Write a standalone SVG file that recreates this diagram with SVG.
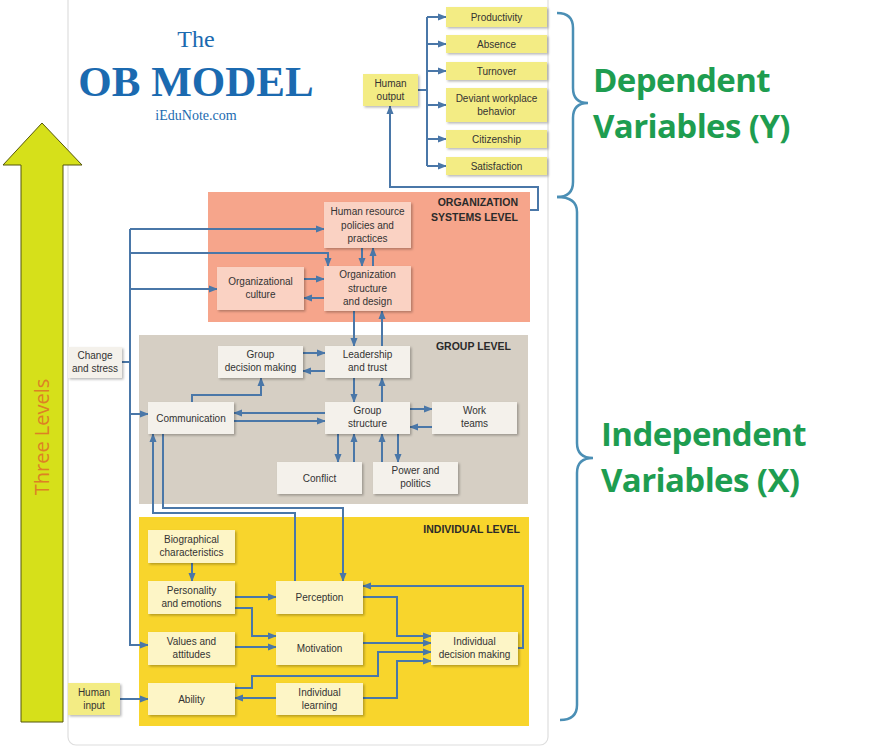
<svg xmlns="http://www.w3.org/2000/svg" width="877" height="754" viewBox="0 0 877 754">
<style>
.bx{stroke:none;filter:url(#sh)}
.org{fill:#FAD2C3}
.grp{fill:#F4F1EB}
.ind{fill:#FDF5C6}
.out{fill:#F3EC84}
.t{font-family:"Liberation Sans",Arial,sans-serif;font-size:10px;fill:#333;text-anchor:middle}
.lvl{font-family:"Liberation Sans",Arial,sans-serif;font-size:10.5px;font-weight:bold;fill:#2a2a2a;text-anchor:end}
.c{fill:none;stroke:#4A77A8;stroke-width:2}
.a{marker-end:url(#ah)}
.big{font-family:"Open Sans",sans-serif;font-weight:700;font-size:33px;letter-spacing:-0.6px;fill:#1E9D50}
.br{fill:none;stroke:#4B8FB5;stroke-width:2.5}
.ttl{font-family:"Liberation Serif",serif;fill:#1B6AB0;text-anchor:middle}
</style>
<defs>
<marker id="ah" markerUnits="userSpaceOnUse" markerWidth="9" markerHeight="8" refX="8" refY="4" orient="auto"><path d="M0,0.5 L9,4 L0,7.5 z" fill="#4A77A8"/></marker>
<filter id="sh" x="-10%" y="-10%" width="130%" height="140%"><feDropShadow dx="1.5" dy="1.5" stdDeviation="1" flood-color="#000" flood-opacity="0.28"/></filter>
</defs>
<rect width="877" height="754" fill="#fff"/>
<rect x="68" y="-10" width="480" height="755" rx="8" fill="#fff" stroke="#dedede" stroke-width="1.2"/>

<g id="three-levels-arrow">
<polygon points="42,123 82,165 63,165 63,722 21,722 21,165 3,165" fill="#D6E01A" stroke="#55560a" stroke-width="1"/>
<text transform="translate(49,437) rotate(-90)" font-family="'Open Sans',sans-serif" font-size="20" fill="#DD8124" text-anchor="middle">Three Levels</text>
</g>

<g id="title">
<text class="ttl" x="196" y="47" font-size="24">The</text>
<text class="ttl" x="196" y="96" font-size="43" font-weight="bold">OB MODEL</text>
<text class="ttl" x="196" y="120" font-size="14">iEduNote.com</text>
</g>

<g id="level-org"><rect x="208" y="192" width="322" height="130" fill="#F6A58B"/>
<text class="lvl" x="518" y="206">ORGANIZATION</text><text class="lvl" x="518" y="221">SYSTEMS LEVEL</text></g>
<g id="level-group"><rect x="139" y="335" width="389" height="169" fill="#D6CFC4"/>
<text class="lvl" x="511" y="350">GROUP LEVEL</text></g>
<g id="level-individual"><rect x="139" y="517" width="390" height="209" fill="#F8D52C"/>
<text class="lvl" x="520" y="533">INDIVIDUAL LEVEL</text></g>

<g id="connectors">
<path class="c" d="M418 90 H427 M427 17 V166"/>
<path class="c a" d="M427 17 H446"/>
<path class="c a" d="M427 44 H446"/>
<path class="c a" d="M427 71 H446"/>
<path class="c a" d="M427 105 H446"/>
<path class="c a" d="M427 139 H446"/>
<path class="c a" d="M427 166 H446"/>
<path class="c a" d="M530 210 H538 V187 H390 V106"/>
<path class="c a" d="M130 229 H324"/>
<path class="c a" d="M130 253 H328 V266"/>
<path class="c a" d="M130 289 H217"/>
<path class="c a" d="M362 248 V266"/>
<path class="c a" d="M373 266 V248"/>
<path class="c a" d="M304 279 H324"/>
<path class="c a" d="M324 298 H304"/>
<path class="c a" d="M130 229 V645 H148"/>
<path class="c" d="M122 362 H130"/>
<path class="c a" d="M130 414 H148"/>
<path class="c a" d="M354 311 V346"/>
<path class="c a" d="M382 346 V311"/>
<path class="c a" d="M303 353 H325"/>
<path class="c a" d="M325 371 H303"/>
<path class="c a" d="M354 378 V402"/>
<path class="c a" d="M382 402 V378"/>
<path class="c a" d="M410 409 H432"/>
<path class="c a" d="M432 427 H410"/>
<path class="c a" d="M325 413 H234"/>
<path class="c a" d="M234 421 H325"/>
<path class="c a" d="M192 402 V395 H261 V378"/>
<path class="c a" d="M338 434 V462"/>
<path class="c a" d="M354 462 V434"/>
<path class="c a" d="M382 462 V434"/>
<path class="c a" d="M398 434 V462"/>
<path class="c a" d="M295 581 V513 H153 V434"/>
<path class="c a" d="M163 434 V508 H343 V581"/>
<path class="c a" d="M120 699 H148"/>
<path class="c a" d="M192 563 V581"/>
<path class="c a" d="M235 597 H276"/>
<path class="c a" d="M235 608 H252 V636 H276"/>
<path class="c a" d="M235 647 H276"/>
<path class="c a" d="M363 597 H397 V636 H431"/>
<path class="c a" d="M363 643 H431"/>
<path class="c a" d="M235 688 H252 V676 H378 V652 H431"/>
<path class="c a" d="M363 698 H397 V661 H431"/>
<path class="c a" d="M276 698 H235"/>
<path class="c a" d="M518 648 H523 V586 H363"/>
</g>

<g id="productivity"><rect class="bx out" x="446" y="7" width="101" height="20"/><text class="t" x="496.5" y="20.5">Productivity</text></g>
<g id="absence"><rect class="bx out" x="446" y="35" width="101" height="18"/><text class="t" x="496.5" y="47.5">Absence</text></g>
<g id="turnover"><rect class="bx out" x="446" y="62" width="101" height="18"/><text class="t" x="496.5" y="74.5">Turnover</text></g>
<g id="deviant"><rect class="bx out" x="446" y="88" width="101" height="34"/><text class="t" x="496.5" y="102">Deviant workplace</text><text class="t" x="496.5" y="115">behavior</text></g>
<g id="citizenship"><rect class="bx out" x="446" y="130" width="101" height="18"/><text class="t" x="496.5" y="142.5">Citizenship</text></g>
<g id="satisfaction"><rect class="bx out" x="446" y="157" width="101" height="18"/><text class="t" x="496.5" y="169.5">Satisfaction</text></g>
<g id="human-output"><rect class="bx out" x="363" y="74" width="55" height="32"/><text class="t" x="390.5" y="87">Human</text><text class="t" x="390.5" y="100">output</text></g>

<g id="hr"><rect class="bx org" x="324" y="202" width="87" height="46"/><text class="t" x="367.5" y="215">Human resource</text><text class="t" x="367.5" y="228.5">policies and</text><text class="t" x="367.5" y="242">practices</text></g>
<g id="org-structure"><rect class="bx org" x="324" y="266" width="87" height="45"/><text class="t" x="367.5" y="278">Organization</text><text class="t" x="367.5" y="292">structure</text><text class="t" x="367.5" y="305">and design</text></g>
<g id="org-culture"><rect class="bx org" x="217" y="267" width="87" height="43"/><text class="t" x="260.5" y="285">Organizational</text><text class="t" x="260.5" y="298">culture</text></g>

<g id="change-stress"><rect class="bx grp" x="68" y="347" width="54" height="31"/><text class="t" x="95" y="359">Change</text><text class="t" x="95" y="372">and stress</text></g>
<g id="group-decision"><rect class="bx grp" x="218" y="346" width="85" height="32"/><text class="t" x="260.5" y="358">Group</text><text class="t" x="260.5" y="371">decision making</text></g>
<g id="leadership"><rect class="bx grp" x="325" y="346" width="85" height="32"/><text class="t" x="367.5" y="358">Leadership</text><text class="t" x="367.5" y="371">and trust</text></g>
<g id="communication"><rect class="bx grp" x="148" y="402" width="86" height="32"/><text class="t" x="191" y="421.5">Communication</text></g>
<g id="group-structure"><rect class="bx grp" x="325" y="402" width="85" height="32"/><text class="t" x="367.5" y="414">Group</text><text class="t" x="367.5" y="427">structure</text></g>
<g id="work-teams"><rect class="bx grp" x="432" y="402" width="85" height="32"/><text class="t" x="474.5" y="414">Work</text><text class="t" x="474.5" y="427">teams</text></g>
<g id="conflict"><rect class="bx grp" x="277" y="462" width="85" height="32"/><text class="t" x="319.5" y="481.5">Conflict</text></g>
<g id="power"><rect class="bx grp" x="373" y="462" width="85" height="32"/><text class="t" x="415.5" y="474">Power and</text><text class="t" x="415.5" y="487">politics</text></g>

<g id="biographical"><rect class="bx ind" x="148" y="530" width="87" height="33"/><text class="t" x="191.5" y="543">Biographical</text><text class="t" x="191.5" y="556">characteristics</text></g>
<g id="personality"><rect class="bx ind" x="148" y="581" width="87" height="33"/><text class="t" x="191.5" y="594">Personality</text><text class="t" x="191.5" y="607">and emotions</text></g>
<g id="values"><rect class="bx ind" x="148" y="632" width="87" height="33"/><text class="t" x="191.5" y="645">Values and</text><text class="t" x="191.5" y="658">attitudes</text></g>
<g id="ability"><rect class="bx ind" x="148" y="683" width="87" height="32"/><text class="t" x="191.5" y="702.5">Ability</text></g>
<g id="human-input"><rect class="bx out" x="68" y="683" width="52" height="32"/><text class="t" x="94" y="696">Human</text><text class="t" x="94" y="709">input</text></g>
<g id="perception"><rect class="bx ind" x="276" y="581" width="87" height="33"/><text class="t" x="319.5" y="601">Perception</text></g>
<g id="motivation"><rect class="bx ind" x="276" y="632" width="87" height="33"/><text class="t" x="319.5" y="652">Motivation</text></g>
<g id="learning"><rect class="bx ind" x="276" y="683" width="87" height="32"/><text class="t" x="319.5" y="696">Individual</text><text class="t" x="319.5" y="709">learning</text></g>
<g id="decision"><rect class="bx ind" x="431" y="632" width="87" height="33"/><text class="t" x="474.5" y="645">Individual</text><text class="t" x="474.5" y="658">decision making</text></g>

<g id="dependent">
<path class="br" d="M557 13 Q573 13 573 28 V88 Q573 103 588 103 Q573 103 573 118 V182 Q573 197 557 197"/>
<text class="big" x="593" y="92">Dependent</text>
<text class="big" x="593" y="138">Variables (Y)</text>
</g>
<g id="independent">
<path class="br" d="M557 197 Q577 197 577 212 V443 Q577 458 593 458 Q577 458 577 473 V705 Q577 720 560 720"/>
<text class="big" x="601" y="446">Independent</text>
<text class="big" x="601" y="492">Variables (X)</text>
</g>
</svg>
